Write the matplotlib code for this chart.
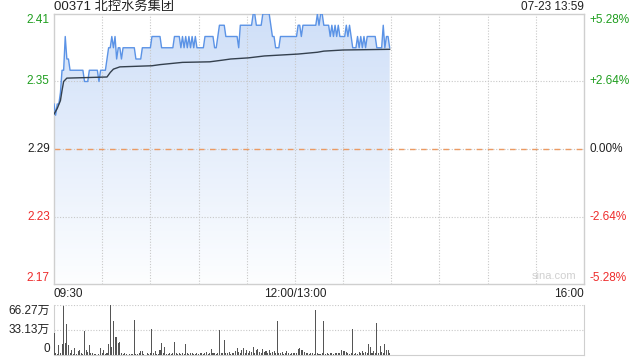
import numpy as np
import matplotlib
matplotlib.use('Agg')
import matplotlib.pyplot as plt
from matplotlib.colors import LinearSegmentedColormap
from matplotlib.transforms import blended_transform_factory

plt.rcParams['font.family'] = ['Liberation Sans', 'Noto Sans CJK SC']

TITLE = '00371 北控水务集团'
STAMP = '07-23 13:59'
PREV_CLOSE = 2.29

# one value per minute from 09:30 (morning 150 min, then 13:00 onward)
price = [
    2.33, 2.32, 2.33, 2.33, 2.34, 2.36, 2.36, 2.39, 2.37, 2.37,
    2.36, 2.36, 2.36, 2.36, 2.36, 2.36, 2.36, 2.36, 2.36, 2.35,
    2.35, 2.35, 2.36, 2.36, 2.36, 2.36, 2.36, 2.36, 2.35, 2.36,
    2.36, 2.36, 2.36, 2.37, 2.38, 2.38, 2.39, 2.38, 2.39, 2.37,
    2.38, 2.38, 2.37, 2.38, 2.38, 2.38, 2.38, 2.38, 2.38, 2.38,
    2.38, 2.37, 2.37, 2.37, 2.37, 2.38, 2.38, 2.38, 2.38, 2.38,
    2.38, 2.39, 2.39, 2.39, 2.39, 2.39, 2.39, 2.38, 2.38, 2.38,
    2.38, 2.38, 2.38, 2.38, 2.38, 2.39, 2.39, 2.39, 2.39, 2.38,
    2.39, 2.38, 2.39, 2.38, 2.39, 2.38, 2.39, 2.38, 2.39, 2.38,
    2.38, 2.38, 2.38, 2.38, 2.39, 2.39, 2.39, 2.39, 2.39, 2.39,
    2.38, 2.38, 2.39, 2.40, 2.40, 2.40, 2.40, 2.39, 2.39, 2.39,
    2.39, 2.39, 2.39, 2.39, 2.39, 2.38, 2.40, 2.40, 2.40, 2.40,
    2.40, 2.40, 2.40, 2.40, 2.41, 2.41, 2.40, 2.40, 2.40, 2.40,
    2.41, 2.41, 2.41, 2.41, 2.41, 2.40, 2.39, 2.39, 2.38, 2.38,
    2.38, 2.39, 2.39, 2.39, 2.39, 2.39, 2.39, 2.39, 2.39, 2.39,
    2.39, 2.39, 2.40, 2.40, 2.39, 2.40, 2.40, 2.40, 2.40, 2.40,
    2.40, 2.40, 2.40, 2.40, 2.41, 2.40, 2.41, 2.41, 2.40, 2.40,
    2.40, 2.40, 2.39, 2.40, 2.39, 2.40, 2.39, 2.40, 2.39, 2.39,
    2.39, 2.39, 2.40, 2.39, 2.40, 2.39, 2.38, 2.38, 2.38, 2.39,
    2.38, 2.39, 2.38, 2.39, 2.38, 2.39, 2.39, 2.39, 2.39, 2.39,
    2.39, 2.38, 2.38, 2.38, 2.38, 2.40, 2.38, 2.39, 2.39, 2.38,
]

# volume per minute, in 万 shares
volume = [
    29, 2, 1, 13, 3, 15, 65, 16, 41, 13,
    2, 6, 1, 9, 1, 5, 6, 2, 1, 32,
    7, 4, 13, 3, 2, 1, 1, 0.5, 1, 9,
    3, 6, 1, 3, 15, 66, 11, 45, 24, 24,
    16, 17, 3, 1, 2, 1, 0.5, 1, 1, 1,
    46, 1, 1, 2, 5, 5, 1, 0.5, 2, 1,
    3, 34, 3, 5, 1, 1, 6, 16, 2, 10,
    1, 1, 2, 1, 2, 17, 2, 1, 3, 1,
    2, 1, 14, 2, 1, 3, 2, 1, 1, 2,
    1, 2, 3, 1, 2, 4, 1, 2, 8, 2,
    3, 1, 2, 33, 3, 2, 20, 3, 2, 4,
    1, 3, 2, 5, 9, 4, 2, 6, 9, 3,
    7, 2, 5, 4, 10, 3, 6, 8, 4, 3,
    8, 4, 5, 3, 6, 2, 4, 5, 3, 45,
    3, 2, 4, 1, 2, 5, 2, 1, 3, 2,
    3, 2, 8, 9, 6, 7, 4, 2, 2, 1,
    3, 2, 1, 60, 2, 1, 1, 2, 45, 1,
    2, 1, 2, 2, 1, 3, 2, 2, 3, 7,
    5, 5, 4, 2, 1, 2, 35, 1, 2, 1,
    4, 3, 5, 2, 4, 2, 15, 10, 3, 5,
    2, 42, 3, 12, 4, 2, 15, 6, 7, 3,
]

# average price line, read at a few minutes
avg_min = [0, 2, 4, 5, 6, 8, 33, 35, 37, 41, 61, 66, 80, 97, 105, 110,
           121, 131, 152, 164, 168, 180, 209]
avg_val = [2.321, 2.326, 2.333, 2.342, 2.350, 2.353, 2.354, 2.358, 2.361,
           2.363, 2.364, 2.365, 2.367, 2.3675, 2.369, 2.370, 2.371, 2.3727,
           2.3744, 2.376, 2.377, 2.378, 2.3786]

price_ticks = [2.41, 2.35, 2.29, 2.23, 2.17]
pct_labels = ['+5.28%', '+2.64%', '0.00%', '-2.64%', '-5.28%']
vol_ticks = [66.27, 33.13, 0]
vol_labels = ['66.27万', '33.13万', '0']
time_labels = ['09:30', '12:00/13:00', '16:00']
time_pos = [0, 150, 330]

GREEN = '#1f9e1f'
RED = '#ee2b2b'
BLACK = '#222222'
tick_colors = [GREEN, GREEN, BLACK, RED, RED]
GRID = '#c8c8c8'
EDGE = '#cfcfcf'

fig = plt.figure(figsize=(6.4, 3.6), dpi=100)
ax = fig.add_axes([54 / 640, 76 / 360, 530 / 640, 270 / 360])
vax = fig.add_axes([54 / 640, 5 / 360, 530 / 640, 50 / 360])

t = np.arange(len(price))

# --- price panel
for s in ax.spines.values():
    s.set_color(EDGE)
    s.set_linewidth(1)
ax.set_xticks([])
ax.set_yticks([])

poly = ax.fill_between(t, price, 2.17, color='none', lw=0)
cmap = LinearSegmentedColormap.from_list('fill', ['#fdfeff', '#cfdff8'])
grad = np.linspace(0, 1, 256).reshape(-1, 1)
img = ax.imshow(grad, cmap=cmap, origin='lower', aspect='auto',
                extent=[0, t[-1], 2.17, 2.41], zorder=0.5)
img.set_clip_path(poly.get_paths()[0], transform=ax.transData)
ax.set_xlim(0, 330)
ax.set_ylim(2.17, 2.41)

for gx in range(30, 330, 30):
    ax.axvline(gx, color=GRID, lw=0.8, ls=(0, (1, 1.5)), zorder=1.5)
for gy in [2.35, 2.29, 2.23]:
    ax.axhline(gy, color=GRID, lw=0.8, ls=(0, (1, 1.5)), zorder=1.5)
ax.axhline(PREV_CLOSE, color='#ec9a62', lw=1.0, ls=(0, (4, 4)), zorder=2)

ax.plot(t, price, color='#5b93e6', lw=1.0, zorder=4)
ax.plot(avg_min, avg_val, color='#34404e', lw=1.0, zorder=5)

ytr = blended_transform_factory(ax.transAxes, ax.transData)
for i, (v, c) in enumerate(zip(price_ticks, tick_colors)):
    va = 'top' if i == 0 else ('bottom' if i == len(price_ticks) - 1 else 'center')
    ax.text(-0.008, v, f'{v:.2f}', transform=ytr, ha='right', va=va,
            color=c, fontsize=8.5)
    ax.text(1.011, v, pct_labels[i], transform=ytr, ha='left', va=va,
            color=c, fontsize=8.5)

xtr = blended_transform_factory(ax.transData, ax.transAxes)
for lab, p, ha in zip(time_labels, time_pos, ['left', 'center', 'right']):
    ax.text(p, -0.015, lab, transform=xtr, ha=ha, va='top',
            color=BLACK, fontsize=8.5)

ax.text(0, 1.026, TITLE, transform=ax.transAxes, ha='left', va='center',
        fontsize=9.5, color=BLACK)
ax.text(1, 1.026, STAMP, transform=ax.transAxes, ha='right', va='center',
        fontsize=8.5, color=BLACK)
ax.text(0.985, 0.012, 'sina.com', transform=ax.transAxes, ha='right',
        va='bottom', fontsize=8, color='#d0d0d0')

# --- volume panel
vax.set_xlim(0, 330)
vax.set_ylim(0, 66.27)
vax.bar(t, volume, width=0.65, color='#555555', zorder=3)
for s in ['left', 'right', 'bottom']:
    vax.spines[s].set_color(EDGE)
vax.spines['top'].set_visible(False)
vax.set_xticks([])
vax.set_yticks([])
for gy in [66.27, 33.13]:
    vax.axhline(gy, color=GRID, lw=0.8, ls=(0, (1, 1.5)), zorder=1)
vtr = blended_transform_factory(vax.transAxes, vax.transData)
for i, (v, lab) in enumerate(zip(vol_ticks, vol_labels)):
    va = 'top' if i == 0 else ('bottom' if i == len(vol_ticks) - 1 else 'center')
    vax.text(-0.008, v, lab, transform=vtr, ha='right', va=va,
             color=BLACK, fontsize=8.5)

fig.savefig('out.png', dpi=100)
